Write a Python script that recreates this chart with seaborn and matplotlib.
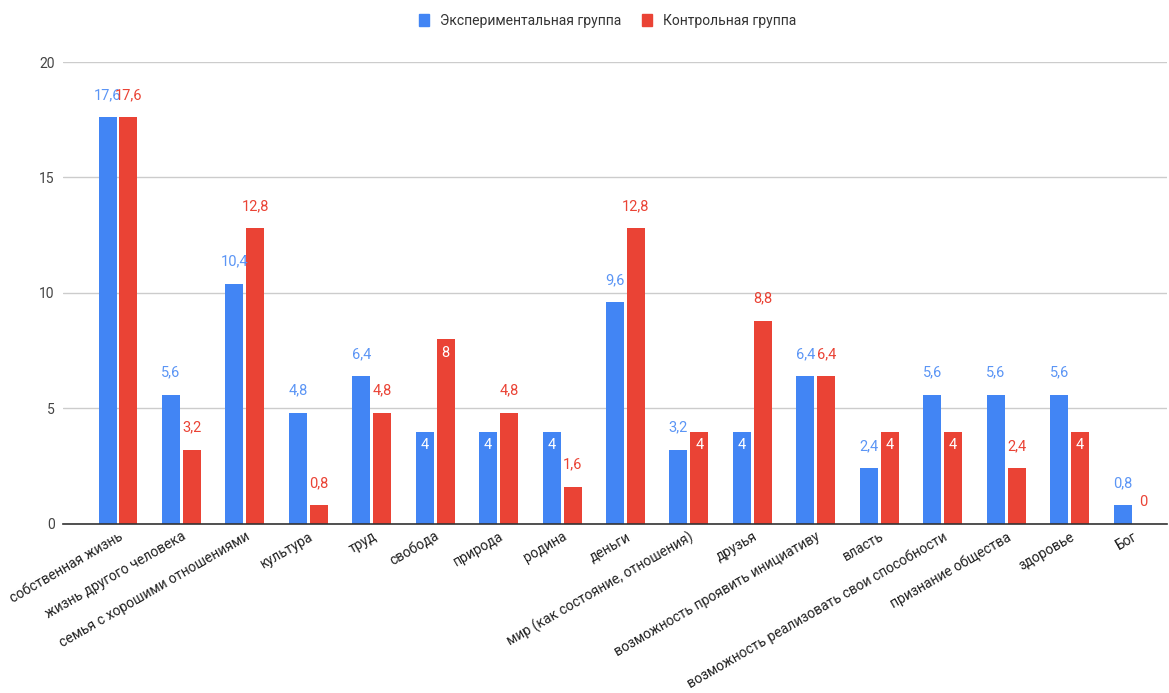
import matplotlib
matplotlib.use("Agg")
import matplotlib.pyplot as plt
import seaborn as sns
import pandas as pd

categories = ["собственная жизнь", "жизнь другого человека", "семья с хорошими отношениями",
              "культура", "труд", "свобода", "природа", "родина", "деньги",
              "мир (как состояние, отношения)", "друзья", "возможность проявить инициативу",
              "власть", "возможность реализовать свои способности", "признание общества",
              "здоровье", "Бог"]
experimental = [17.6, 5.6, 10.4, 4.8, 6.4, 4, 4, 4, 9.6, 3.2, 4, 6.4, 2.4, 5.6, 5.6, 5.6, 0.8]
control = [17.6, 3.2, 12.8, 0.8, 4.8, 8, 4.8, 1.6, 12.8, 4, 8.8, 6.4, 4, 4, 2.4, 4, 0]
series_names = ["Экспериментальная группа", "Контрольная группа"]
yticks = [0, 5, 10, 15, 20]
# label placement (True = inside bar, white)
exp_inside = [False, False, False, False, False, True, True, True, False, False, True,
              False, False, False, False, False, False]
ctl_inside = [False, False, False, False, False, True, False, False, False, True, False,
              False, True, True, False, True, False]

colors = ["#4285F4", "#EA4335"]

sns.set_theme(style="white")
plt.rcParams["font.family"] = ["Roboto", "DejaVu Sans"]

df = pd.DataFrame({
    "cat": categories * 2,
    "val": experimental + control,
    "grp": [series_names[0]] * len(categories) + [series_names[1]] * len(categories),
})

fig = plt.figure(figsize=(11.69, 6.93), dpi=100)
ax = fig.add_axes([0.054, 0.244, 0.944, 0.6665])
sns.barplot(data=df, x="cat", y="val", hue="grp", palette=colors, width=0.66, gap=0.14,
            ax=ax, legend=False, saturation=1, errorbar=None, linewidth=0)

ax.set_ylim(0, 20)
ax.set_xlim(-0.865, 16.53)
ax.set_yticks(yticks)
ax.set_yticklabels([str(t) for t in yticks], color="#444444", fontsize=10)
ax.grid(axis="y", color="#cccccc", linewidth=1)
ax.set_axisbelow(True)
for s in ["top", "right", "left"]:
    ax.spines[s].set_visible(False)
ax.spines["bottom"].set_color("#333333")
ax.spines["bottom"].set_linewidth(1.2)
ax.tick_params(axis="y", length=0, pad=6)
ax.tick_params(axis="x", length=0, pad=4)
ax.set_xlabel("")
ax.set_ylabel("")
ax.set_xticks(range(len(categories)))
ax.set_xticklabels(categories, rotation=30, ha="right", rotation_mode="anchor",
                   color="#222222", fontsize=10)


def fmt(v):
    s = ("%g" % v)
    return s.replace(".", ",")


label_colors = ["#5B95F5", "#EA4335"]
for ci, (cont, vals, inside) in enumerate(zip(ax.containers, [experimental, control],
                                              [exp_inside, ctl_inside])):
    for bar, v, ins in zip(cont, vals, inside):
        x = bar.get_x() + bar.get_width() / 2
        if ins:
            ax.annotate(fmt(v), (x, v), xytext=(0, -5), textcoords="offset points",
                        ha="center", va="top", color="white", fontsize=10.5)
        else:
            ax.annotate(fmt(v), (x, v), xytext=(0, 11), textcoords="offset points",
                        ha="center", va="bottom", color=label_colors[ci], fontsize=10.5)

handles = [plt.Rectangle((0, 0), 1, 1, color=c) for c in colors]
fig.legend(handles, series_names, loc="center", bbox_to_anchor=(0.52, 0.97), ncol=2,
           frameon=False, fontsize=10, handlelength=0.7, handleheight=1.0,
           handletextpad=0.8, columnspacing=1.5, labelcolor="#333333")

fig.savefig("out.png", dpi=100)
